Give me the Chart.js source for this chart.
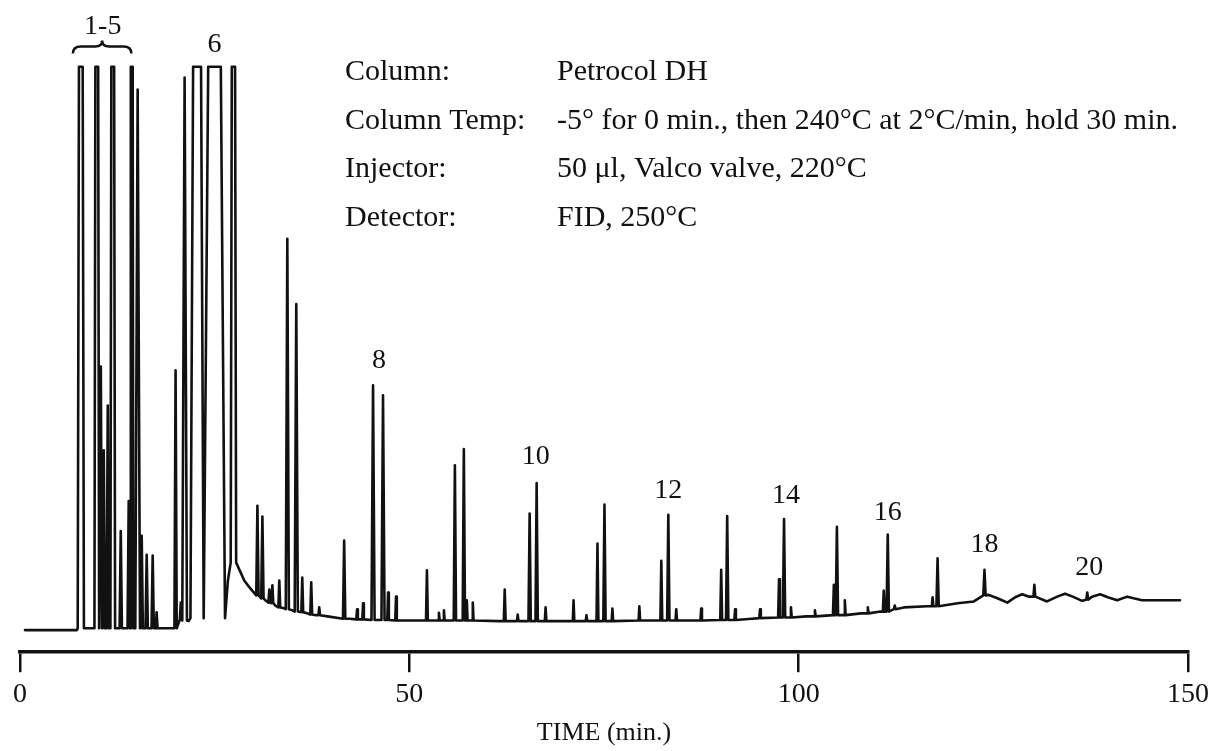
<!DOCTYPE html>
<html>
<head>
<meta charset="utf-8">
<title>Petrocol DH chromatogram</title>
<script src="https://cdn.jsdelivr.net/npm/chart.js@4.4.1/dist/chart.umd.min.js"></script>
<style>
  body { margin: 0; background: #fff; }
  canvas { display: block; }
</style>
</head>
<body>
<canvas id="chart" width="1215" height="751"></canvas>
<script>
// peak list: retention time (min), apex and foot level (detector units), half width at base (min)
const peakTimes = [7.81, 9.86, 10.38, 10.76, 11.27, 11.91, 12.94, 13.96, 14.35, 15.11, 15.63, 16.27, 17.04, 17.55,
    19.98, 20.65, 21.14, 22.74, 24.98, 27.41,
    30.49, 31.13, 32.02, 32.41, 33.30, 34.33, 35.48, 36.25, 37.40, 38.43,
    41.63, 43.29, 44.06, 45.34, 46.62, 47.27, 48.29, 52.26, 53.80, 54.44, 55.85, 57.00, 57.38, 58.15,
    62.25, 63.92, 65.45, 66.35, 67.50, 71.09, 72.75, 74.16, 75.06, 76.08, 79.54, 82.36, 83.26, 84.28,
    87.48, 90.05, 90.82, 91.84, 95.04, 97.48, 98.12, 99.01, 102.09, 104.52, 104.91, 105.93,
    108.88, 110.93, 111.44, 112.34, 117.20, 117.84, 123.86, 130.27, 137.06]
const peakTops = [98, 98, 47.8, 33.8, 41.3, 98, 20.3, 25.3, 98, 94.2, 19.5, 16.3, 16.2, 6.7,
    47.2, 8.3, 96.2, 98, 98, 98,
    24.5, 22.7, 10.5, 11.2, 12.0, 69.2, 58.3, 12.5, 11.7, 7.5,
    18.7, 7.2, 8.2, 44.7, 43.0, 10.0, 9.3, 13.7, 6.6, 7.0, 31.3, 34.0, 8.7, 8.3,
    10.5, 6.3, 23.2, 28.3, 7.5, 8.7, 6.2, 18.2, 24.7, 7.3, 7.7, 15.3, 23.0, 7.2,
    7.3, 13.8, 22.8, 7.2, 7.2, 12.2, 22.3, 7.5, 7.0, 11.3, 21.0, 8.7,
    7.5, 10.3, 19.7, 7.8, 9.2, 15.7, 13.8, 11.3, 10.0]
const peakFeet = [4.0, 4.0, 4.0, 4.0, 4.0, 4.0, 4.0, 4.0, 4.0, 4.0, 4.0, 4.0, 4.0, 4.0,
    4.0, 5.5, 5.3, 5.7, 5.7, 15.0,
    9.5, 9.0, 8.3, 8.2, 7.5, 7.2, 6.8, 6.7, 6.3, 6.2,
    5.6, 5.5, 5.5, 5.4, 5.4, 5.4, 5.3, 5.3, 5.3, 5.3, 5.3, 5.3, 5.3, 5.3,
    5.2, 5.2, 5.2, 5.2, 5.2, 5.2, 5.2, 5.2, 5.2, 5.2, 5.3, 5.3, 5.3, 5.3,
    5.3, 5.4, 5.4, 5.4, 5.7, 5.8, 5.8, 5.8, 6.0, 6.2, 6.2, 6.2,
    6.5, 6.8, 6.8, 7.2, 7.7, 7.7, 9.5, 9.3, 8.8]
const peakWidths = [0.4, 0.3, 0.15, 0.15, 0.15, 0.3, 0.15, 0.15, 0.2, 0.3, 0.15, 0.15, 0.15, 0.12,
    0.15, 0.12, 0.3, 0.85, 1.35, 0.35,
    0.15, 0.15, 0.12, 0.12, 0.12, 0.2, 0.2, 0.12, 0.12, 0.1,
    0.15, 0.1, 0.1, 0.2, 0.2, 0.1, 0.1, 0.12, 0.1, 0.1, 0.15, 0.15, 0.1, 0.1,
    0.12, 0.1, 0.15, 0.15, 0.1, 0.1, 0.1, 0.12, 0.15, 0.1, 0.1, 0.12, 0.15, 0.1,
    0.1, 0.12, 0.15, 0.1, 0.1, 0.12, 0.15, 0.1, 0.1, 0.12, 0.15, 0.1,
    0.1, 0.12, 0.15, 0.12, 0.1, 0.15, 0.15, 0.12, 0.12]

// baseline between peaks (solvent tail, drift and the late humps)
const baseTimes = [0.64, 7.3, 17.7, 19.6, 20.35, 21.65, 26.7, 28.8, 29.5, 30.8, 31.6, 32.8, 33.8, 35.0, 36.9, 38.0,
    39.5, 42.3, 48.7, 61.5, 74.3, 87.1, 94.0, 101.0, 108.0, 110.5, 113.5, 116.5, 120.4, 122.5,
    124.4, 125.6, 126.8, 127.8, 128.7, 129.6, 131.9, 133.2, 134.2, 135.2, 136.4, 137.7, 138.7, 139.7,
    140.9, 142.2, 144.1, 148.97]
const baseLevels = [3.7, 3.7, 4.0, 4.0, 4.8, 5.2, 12.0, 12.0, 10.8, 9.3, 8.6, 7.8, 7.4, 7.0, 6.5, 6.2,
    6.0, 5.6, 5.3, 5.2, 5.2, 5.3, 5.6, 6.0, 6.5, 6.8, 7.5, 7.7, 8.2, 8.5,
    9.6, 9.0, 8.3, 9.2, 9.7, 9.3, 8.5, 9.3, 9.8, 9.3, 8.6, 9.3, 9.7, 9.2,
    8.7, 9.3, 8.7, 8.7]

const xTicks = [0, 50, 100, 150]
const labelTexts = ['1-5', '6', '8', '10', '12', '14', '16', '18', '20']
const labelTimes = [10.63, 24.98, 46.11, 66.22, 83.26, 98.37, 111.44, 123.86, 137.31]
const labelLevels = [104.7, 101.7, 48.8, 32.8, 27.0, 26.2, 23.3, 18.0, 14.2]
const braceFrom = 6.8, braceTo = 14.3, braceLevel = 101.4

const infoNames = ['Column:', 'Column Temp:', 'Injector:', 'Detector:']
const infoValues = ['Petrocol DH', '-5° for 0 min., then 240°C at 2°C/min, hold 30 min.',
    '50 \u03bcl, Valco valve, 220°C', 'FID, 250°C']

const serif = "'Liberation Serif', 'Times New Roman', serif"
const ink = '#111'

// build the trace: baseline points plus a spike (or a flat-topped, off-scale block) for each peak
let trace = []
baseTimes.forEach((t, i) => {
    let inside = peakTimes.some((p, k) => Math.abs(t - p) <= peakWidths[k] + 0.02)
    if (!inside) trace.push({ x: t, y: baseLevels[i] })
})
peakTimes.forEach((t, k) => {
    let w = peakWidths[k], top = peakTops[k], foot = peakFeet[k]
    trace.push({ x: t - w, y: foot })
    if (top >= 97) {
        trace.push({ x: t - w * 0.6, y: top })
        trace.push({ x: t + w * 0.6, y: top })
    } else {
        trace.push({ x: t, y: top })
    }
    trace.push({ x: t + w, y: foot })
})
trace.sort((a, b) => a.x - b.x)

const notes = {
    id: 'notes',
    afterDatasetsDraw(chart) {
        const ctx = chart.ctx
        const xs = chart.scales.x, ys = chart.scales.y
        ctx.save()
        ctx.fillStyle = ink
        ctx.strokeStyle = ink

        // peak numbers
        ctx.font = '28px ' + serif
        ctx.textAlign = 'center'
        ctx.textBaseline = 'middle'
        labelTexts.forEach((s, i) => {
            ctx.fillText(s, xs.getPixelForValue(labelTimes[i]), ys.getPixelForValue(labelLevels[i]))
        })

        // brace over peaks 1-5
        let x1 = xs.getPixelForValue(braceFrom), x2 = xs.getPixelForValue(braceTo)
        let xm = (x1 + x2) / 2, y0 = ys.getPixelForValue(braceLevel)
        ctx.lineWidth = 2.5
        ctx.beginPath()
        ctx.moveTo(x1, y0 + 7)
        ctx.quadraticCurveTo(x1, y0, x1 + 8, y0)
        ctx.lineTo(xm - 7, y0)
        ctx.quadraticCurveTo(xm, y0, xm, y0 - 6)
        ctx.quadraticCurveTo(xm, y0, xm + 7, y0)
        ctx.lineTo(x2 - 8, y0)
        ctx.quadraticCurveTo(x2, y0, x2, y0 + 7)
        ctx.stroke()

        // run conditions
        ctx.font = '30px ' + serif
        ctx.textAlign = 'left'
        infoNames.forEach((s, i) => {
            let y = 72 + i * 48.7
            ctx.fillText(s, 345, y)
            ctx.fillText(infoValues[i], 557, y)
        })
        ctx.restore()
    }
}

new Chart(document.querySelector('#chart'), {
    type: 'line',
    data: {
        datasets: [{
            data: trace,
            borderColor: ink,
            borderWidth: 2.6,
            borderJoinStyle: 'round',
            borderCapStyle: 'round',
            pointRadius: 0,
            tension: 0
        }]
    },
    options: {
        responsive: false,
        animation: false,
        layout: { padding: { left: 20, right: 24, top: 25, bottom: 0 } },
        plugins: { legend: { display: false }, tooltip: { enabled: false } },
        scales: {
            x: {
                type: 'linear',
                min: 0,
                max: 150,
                afterBuildTicks: (axis) => { axis.ticks = xTicks.map(v => ({ value: v })) },
                ticks: { color: ink, font: { family: serif, size: 28 }, padding: 6, maxRotation: 0 },
                grid: { drawOnChartArea: false, drawTicks: true, tickLength: 20, color: ink, lineWidth: 2.5 },
                border: { display: true, color: ink, width: 3.5 },
                title: { display: true, text: 'TIME (min.)', color: ink, font: { family: serif, size: 26 }, padding: { top: 0, bottom: 2 } }
            },
            y: { display: false, min: 0, max: 105 }
        }
    },
    plugins: [notes]
})
</script>
</body>
</html>
